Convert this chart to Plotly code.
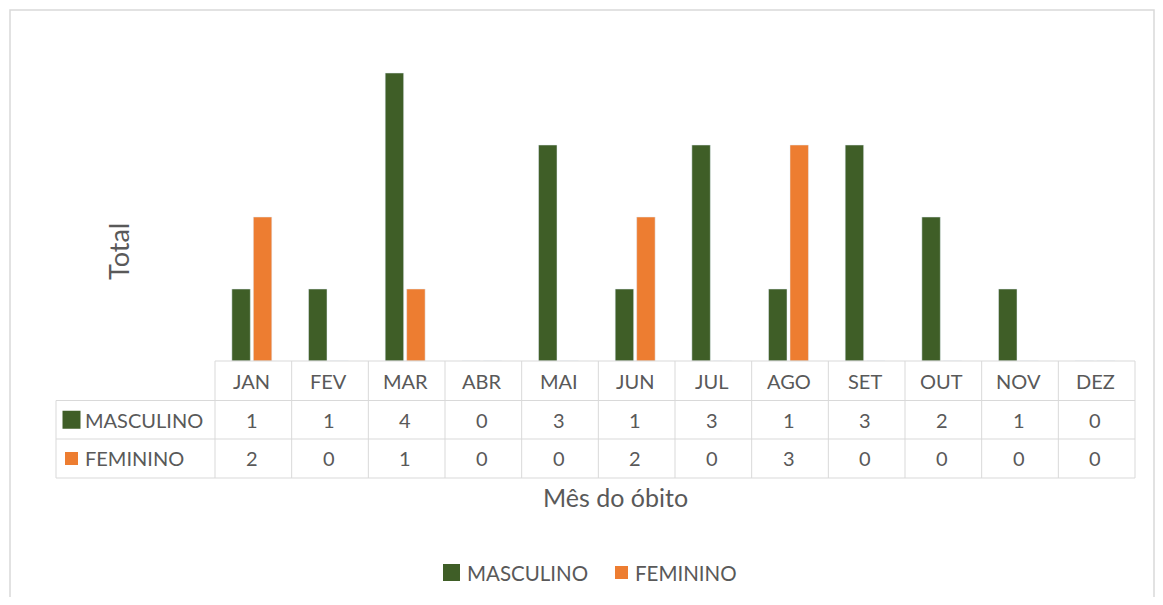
import plotly.graph_objects as go

months = ["JAN", "FEV", "MAR", "ABR", "MAI", "JUN", "JUL", "AGO", "SET", "OUT", "NOV", "DEZ"]
masculino = [1, 1, 4, 0, 3, 1, 3, 1, 3, 2, 1, 0]
feminino = [2, 0, 1, 0, 0, 2, 0, 3, 0, 0, 0, 0]
series_names = ["MASCULINO", "FEMININO"]
x_title = "Mês do óbito"
y_title = "Total"

# page is offset by the default 8px body margin
OFF = 8
FW, FH = 1163 - 2 * OFF, 605 - 2 * OFF
GREEN = "#3f5e27"
ORANGE = "#ed7d31"
GRID = "#d9d9d9"
TXT = "#595959"
FONT = "Lato, Open Sans, sans-serif"


def px(x):
    return (x - OFF) / FW


def py(y):
    return 1 - (y - OFF) / FH


x0, x1 = 215, 1135
base_y, top_y = 361, 37
row_y = [361, 400.5, 439, 478]
label_x0 = 56

fig = go.Figure()
fig.add_trace(go.Bar(x=months, y=masculino, name=series_names[0], marker_color=GREEN, showlegend=False))
fig.add_trace(go.Bar(x=months, y=feminino, name=series_names[1], marker_color=ORANGE, showlegend=False))

shapes = []
annos = []
line = dict(color=GRID, width=1)
# outer border
shapes.append(dict(type="rect", xref="paper", yref="paper", x0=px(10), x1=px(1154), y0=py(10), y1=py(620),
                   line=dict(color=GRID, width=1.5)))
# table horizontal lines
shapes.append(dict(type="line", xref="paper", yref="paper", x0=px(x0), x1=px(x1), y0=py(row_y[0]), y1=py(row_y[0]), line=line))
for yy in row_y[1:]:
    shapes.append(dict(type="line", xref="paper", yref="paper", x0=px(label_x0), x1=px(x1), y0=py(yy), y1=py(yy), line=line))
# vertical lines
shapes.append(dict(type="line", xref="paper", yref="paper", x0=px(label_x0), x1=px(label_x0), y0=py(row_y[1]), y1=py(row_y[3]), line=line))
ncat = len(months)
cw = (x1 - x0) / ncat
for i in range(ncat + 1):
    xx = x0 + cw * i
    shapes.append(dict(type="line", xref="paper", yref="paper", x0=px(xx), x1=px(xx), y0=py(row_y[0]), y1=py(row_y[3]), line=line))

tfont = dict(size=20, color=TXT, family=FONT)
# table text
for i, m in enumerate(months):
    cx = px(x0 + cw * (i + 0.5) - 1.5)
    annos.append(dict(x=cx, xref="paper", y=py((row_y[0] + row_y[1]) / 2), yref="paper", text=m, showarrow=False,
                      font=tfont, xanchor="center", yanchor="middle"))
    annos.append(dict(x=cx, xref="paper", y=py((row_y[1] + row_y[2]) / 2), yref="paper", text=str(masculino[i]),
                      showarrow=False, font=tfont, xanchor="center", yanchor="middle"))
    annos.append(dict(x=cx, xref="paper", y=py((row_y[2] + row_y[3]) / 2), yref="paper", text=str(feminino[i]),
                      showarrow=False, font=tfont, xanchor="center", yanchor="middle"))

# row labels with keys
for r, (name, col, sz) in enumerate([(series_names[0], GREEN, 18), (series_names[1], ORANGE, 13)]):
    cy = (row_y[r + 1] + row_y[r + 2]) / 2
    kx = 71.5
    shapes.append(dict(type="rect", xref="paper", yref="paper", x0=px(kx - sz / 2), x1=px(kx + sz / 2),
                       y0=py(cy + sz / 2), y1=py(cy - sz / 2), fillcolor=col, line=dict(width=0)))
    annos.append(dict(x=px(83), xref="paper", y=py(cy), yref="paper", text=name, showarrow=False, xanchor="left",
                      yanchor="middle", font=tfont))

# manual legend
leg_y = 572.5
for name, col, sz, kx, tx in [(series_names[0], GREEN, 17, 451.5, 465), (series_names[1], ORANGE, 13, 621.5, 633)]:
    shapes.append(dict(type="rect", xref="paper", yref="paper", x0=px(kx - sz / 2), x1=px(kx + sz / 2),
                       y0=py(leg_y + sz / 2), y1=py(leg_y - sz / 2), fillcolor=col, line=dict(width=0)))
    annos.append(dict(x=px(tx), xref="paper", y=py(leg_y), yref="paper", text=name, showarrow=False, xanchor="left",
                      yanchor="middle", font=dict(size=20.5, color=TXT, family=FONT)))

annos.append(dict(x=px(615), xref="paper", y=py(497), yref="paper", text=x_title, showarrow=False,
                  font=dict(size=25, color=TXT, family=FONT), xanchor="center", yanchor="middle"))
annos.append(dict(x=px(118), xref="paper", y=py(252), yref="paper", text=y_title, showarrow=False, textangle=-90,
                  font=dict(size=27, color=TXT, family=FONT), xanchor="center", yanchor="middle"))

fig.update_layout(
    width=FW, height=FH,
    margin=dict(l=0, r=0, t=0, b=0),
    paper_bgcolor="white", plot_bgcolor="white",
    barmode="group", bargap=0.44, bargroupgap=0.14,
    xaxis=dict(domain=[px(x0 - 1.5), px(x1 - 1.5)], range=[-0.5, 11.5], showticklabels=False, showgrid=False,
               zeroline=False, showline=False, fixedrange=True),
    yaxis=dict(domain=[py(base_y), py(top_y)], range=[0, 4.5], showticklabels=False, showgrid=False,
               zeroline=False, showline=False, fixedrange=True),
    shapes=shapes, annotations=annos, showlegend=False,
)
fig.write_html("out.html")
